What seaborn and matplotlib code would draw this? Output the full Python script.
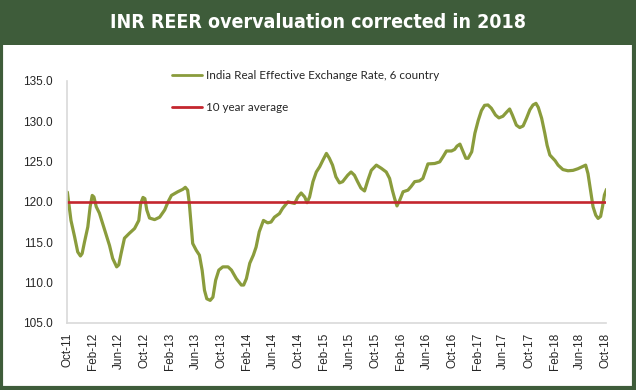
#!/usr/bin/python
# -*- coding: utf-8 -*-
"""INR REER chart"""

import pandas as pd
import seaborn as sns
import numpy as np
import matplotlib.pyplot as plt
import matplotlib.dates as mdates
from matplotlib.patches import Rectangle


TITLE = 'INR REER overvaluation corrected in 2018'
REER_LABEL = 'India Real Effective Exchange Rate, 6 country'
AVG_LABEL = '10 year average'

DATES = [
    '2011-10-01', '2011-10-08', '2011-10-18', '2011-11-04', '2011-11-19', '2011-12-02',
    '2011-12-10', '2011-12-21', '2012-01-06', '2012-01-17', '2012-01-27', '2012-02-04',
    '2012-02-15', '2012-03-01', '2012-03-24', '2012-04-18', '2012-05-03', '2012-05-22',
    '2012-06-01', '2012-06-12', '2012-06-28', '2012-07-21', '2012-08-15', '2012-09-04',
    '2012-09-13', '2012-09-24', '2012-10-03', '2012-10-12', '2012-10-25', '2012-11-18',
    '2012-12-12', '2013-01-05', '2013-01-21', '2013-02-06', '2013-03-08', '2013-04-01',
    '2013-04-13', '2013-04-24', '2013-05-02', '2013-05-10', '2013-05-18', '2013-06-04',
    '2013-06-19', '2013-07-02', '2013-07-13', '2013-07-24', '2013-08-09', '2013-08-22',
    '2013-09-04', '2013-09-19', '2013-10-08', '2013-11-02', '2013-11-18', '2013-12-11',
    '2014-01-04', '2014-01-15', '2014-01-28', '2014-02-13', '2014-03-02', '2014-03-15',
    '2014-03-30', '2014-04-13', '2014-04-19', '2014-05-09', '2014-05-25', '2014-06-10',
    '2014-07-04', '2014-07-19', '2014-08-13', '2014-08-29', '2014-09-14', '2014-09-29',
    '2014-10-15', '2014-11-01', '2014-11-12', '2014-11-24', '2014-12-10', '2014-12-26',
    '2015-01-11', '2015-01-27', '2015-02-12', '2015-02-26', '2015-03-13', '2015-03-29',
    '2015-04-15', '2015-04-30', '2015-05-24', '2015-06-09', '2015-06-25', '2015-07-10',
    '2015-07-26', '2015-08-12', '2015-08-28', '2015-09-13', '2015-10-07', '2015-10-31',
    '2015-11-23', '2015-12-09', '2015-12-22', '2016-01-02', '2016-01-13', '2016-01-26',
    '2016-02-11', '2016-03-05', '2016-03-20', '2016-04-06', '2016-04-29', '2016-05-15',
    '2016-06-08', '2016-07-10', '2016-08-03', '2016-08-19', '2016-09-04', '2016-09-28',
    '2016-10-13', '2016-10-24', '2016-11-07', '2016-11-19', '2016-12-05', '2016-12-16',
    '2017-01-02', '2017-01-17', '2017-02-02', '2017-02-17', '2017-03-04', '2017-03-20',
    '2017-04-05', '2017-04-25', '2017-05-11', '2017-05-30', '2017-06-18', '2017-07-01',
    '2017-07-14', '2017-08-02', '2017-08-18', '2017-09-03', '2017-09-19', '2017-10-05',
    '2017-10-20', '2017-11-03', '2017-11-14', '2017-11-30', '2017-12-15', '2017-12-26',
    '2018-01-08', '2018-02-02', '2018-02-16', '2018-03-11', '2018-04-04', '2018-04-28',
    '2018-05-21', '2018-06-14', '2018-06-27', '2018-07-08', '2018-07-20', '2018-08-01',
    '2018-08-14', '2018-08-25', '2018-09-06', '2018-09-15', '2018-09-24', '2018-10-04',
]

REER = [
    121.2, 119.8, 117.7, 115.7, 113.8, 113.3,
    113.6, 115.0, 116.9, 119.4, 120.8, 120.6,
    119.4, 118.6, 116.7, 114.6, 113.0, 111.95,
    112.2, 113.6, 115.5, 116.1, 116.7, 117.7,
    119.8, 120.55, 120.4, 119.0, 118.0, 117.8,
    118.1, 119.0, 120.0, 120.8, 121.25, 121.55,
    121.8, 121.45, 119.8, 117.3, 114.85, 114.0,
    113.4, 111.5, 109.05, 108.0, 107.8, 108.2,
    110.3, 111.55, 111.95, 111.95, 111.55, 110.5,
    109.7, 109.7, 110.5, 112.4, 113.4, 114.4,
    116.3, 117.3, 117.7, 117.4, 117.5, 118.1,
    118.55, 119.2, 120.0, 119.9, 119.8, 120.6,
    121.1, 120.6, 119.9, 120.6, 122.5, 123.7,
    124.35, 125.2, 126.0, 125.4, 124.55, 123.1,
    122.35, 122.5, 123.3, 123.7, 123.3, 122.5,
    121.7, 121.35, 122.7, 123.9, 124.55, 124.15,
    123.7, 122.9, 121.45, 120.4, 119.5, 120.2,
    121.25, 121.45, 121.9, 122.5, 122.6, 122.9,
    124.7, 124.75, 124.95, 125.6, 126.3, 126.3,
    126.5, 126.9, 127.15, 126.4, 125.4, 125.4,
    126.2, 128.5, 130.1, 131.3, 131.95, 132.0,
    131.6, 130.75, 130.4, 130.6, 131.15, 131.5,
    130.75, 129.5, 129.2, 129.4, 130.35, 131.4,
    132.0, 132.2, 131.7, 130.35, 128.5, 127.0,
    125.8, 125.1, 124.55, 124.0, 123.85, 123.9,
    124.1, 124.4, 124.55, 123.5, 121.45, 119.4,
    118.35, 117.95, 118.2, 119.4, 120.85, 121.55,
]

AVERAGE = 120.0

GREEN = '#8a9c3c'
RED = '#c4262e'
BAR = '#3e5c3a'


def plot_reer():

    df = pd.DataFrame({'date': pd.to_datetime(DATES), 'reer': REER})
    df['avg'] = AVERAGE

    sns.set_style("white")
    plt.rcParams['font.family'] = ['Liberation Sans', 'DejaVu Sans']

    fig = plt.figure(figsize=(6.36, 3.9), dpi=100)
    ax = fig.add_axes([0.1053, 0.1718, 0.848, 0.6212])

    # title bar and frame
    fig.patches.append(Rectangle((0, 0.884), 1, 0.116, transform=fig.transFigure,
                                 facecolor=BAR, edgecolor='none', zorder=0))
    fig.patches.append(Rectangle((0.002, 0.005), 0.995, 0.99, transform=fig.transFigure,
                                 facecolor='none', edgecolor=BAR, linewidth=3, zorder=1))
    fig.text(0.5, 0.943, TITLE, ha='center', va='center', color='white',
             fontsize=14, fontweight='bold', fontstretch='condensed',
             family=['DejaVu Sans'])

    sns.lineplot(x='date', y='reer', data=df, ax=ax, color=GREEN, linewidth=2.3,
                 label=REER_LABEL)
    sns.lineplot(x='date', y='avg', data=df, ax=ax, color=RED, linewidth=1.9,
                 label=AVG_LABEL)

    ax.set_ylim(105, 135)
    ax.set_yticks(np.arange(105, 136, 5))
    ax.yaxis.set_major_formatter(plt.FormatStrFormatter('%.1f'))
    ax.set_xlim(pd.Timestamp('2011-09-29'), pd.Timestamp('2018-10-03'))
    ax.xaxis.set_major_locator(mdates.MonthLocator(bymonth=[2, 6, 10]))
    ax.xaxis.set_minor_locator(mdates.MonthLocator())
    ax.xaxis.set_major_formatter(mdates.DateFormatter('%b-%y'))
    ax.set_xlabel('')
    ax.set_ylabel('')

    for s in ('top', 'right'):
        ax.spines[s].set_visible(False)
    for s in ('left', 'bottom'):
        ax.spines[s].set_color('#d9d9d9')
        ax.spines[s].set_linewidth(1.2)

    ax.tick_params(axis='both', which='major', length=4, color='#d9d9d9',
                   labelcolor='#262626', labelsize=8.5, direction='out')
    ax.tick_params(axis='x', which='major', rotation=90, pad=3)
    ax.tick_params(axis='x', which='minor', length=2, color='#d9d9d9')
    ax.tick_params(axis='y', pad=6)

    leg = ax.legend(loc='upper left', bbox_to_anchor=(0.175, 1.088), frameon=False,
                    handlelength=2.6, handletextpad=0.35, labelspacing=1.8,
                    prop={'family': ['Lato', 'DejaVu Sans'], 'size': 8.4})
    for h in leg.get_lines():
        h.set_linewidth(2.0)

    plt.savefig('out.png', dpi=100)
    plt.clf()


if __name__ == "__main__":

    plot_reer()
